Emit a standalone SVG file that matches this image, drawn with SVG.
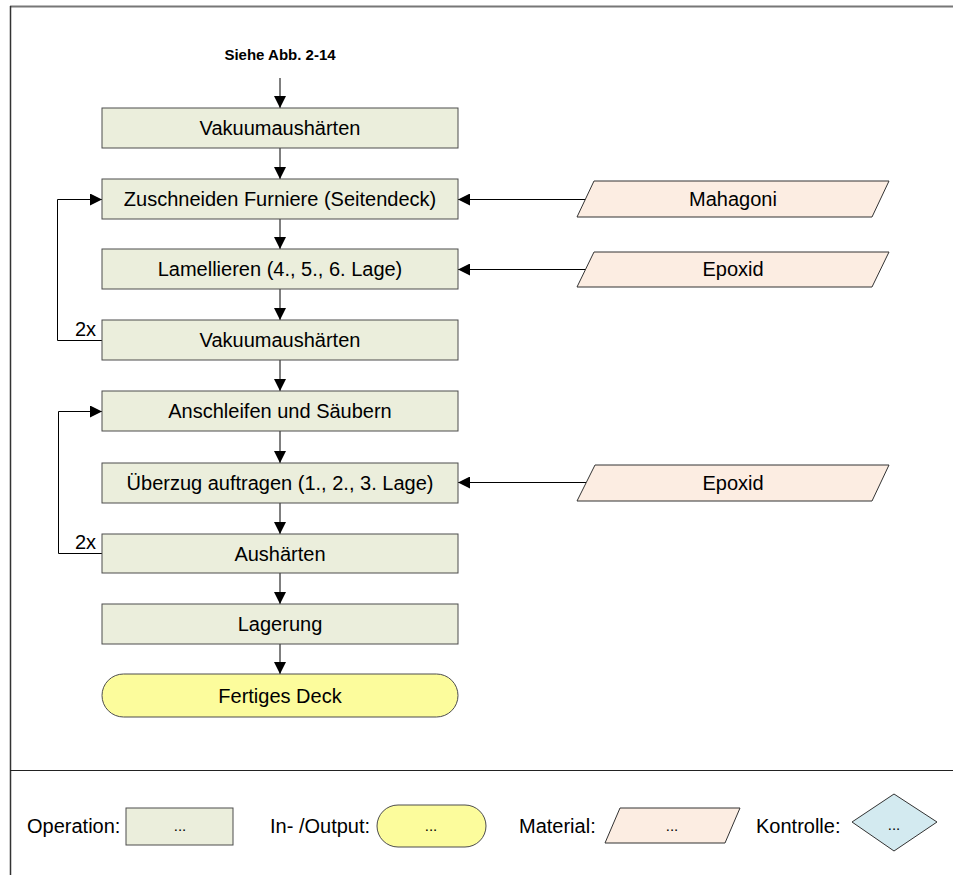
<svg xmlns="http://www.w3.org/2000/svg" width="953" height="875" viewBox="0 0 953 875">
  <defs>
    <style>
      .op { fill: #EBEEDC; stroke: #4D4D4D; stroke-width: 1; }
      .io { fill: #FCFC9C; stroke: #4D4D4D; stroke-width: 1; }
      .mat { fill: #FCEDE2; stroke: #333333; stroke-width: 1; }
      .ctl { fill: #D3EAF0; stroke: #333333; stroke-width: 1; }
      .lbl { font-family: "Liberation Sans", Arial, sans-serif; font-size: 20px; fill: #000; text-anchor: middle; }
      .lft { font-family: "Liberation Sans", Arial, sans-serif; font-size: 20px; fill: #000; }
      .dots { font-family: "Liberation Sans", Arial, sans-serif; font-size: 15px; fill: #000; text-anchor: middle; }
      .con { fill: none; stroke: #000; stroke-width: 1; }
      .arr { marker-end: url(#head); }
    </style>
    <marker id="head" viewBox="0 0 12 12" refX="12" refY="6" markerWidth="12" markerHeight="12" markerUnits="userSpaceOnUse" orient="auto">
      <path d="M0,0 L12,6 L0,12 z" fill="#000"/>
    </marker>
  </defs>

  <rect width="953" height="875" fill="#FFFFFF"/>

  <!-- frame -->
  <g id="frame">
    <line x1="10" y1="6.5" x2="953" y2="6.5" stroke="#777777" stroke-width="2"/>
    <line x1="10.5" y1="6" x2="10.5" y2="875" stroke="#333333" stroke-width="1.5"/>
    <line x1="10" y1="770.5" x2="953" y2="770.5" stroke="#222222" stroke-width="1"/>
  </g>

  <!-- connectors -->
  <g id="connectors">
    <line class="con arr" x1="280" y1="78" x2="280" y2="108"/>
    <line class="con arr" x1="280" y1="148" x2="280" y2="179"/>
    <line class="con arr" x1="280" y1="219" x2="280" y2="249"/>
    <line class="con arr" x1="280" y1="289" x2="280" y2="320"/>
    <line class="con arr" x1="280" y1="360" x2="280" y2="391"/>
    <line class="con arr" x1="280" y1="431" x2="280" y2="463"/>
    <line class="con arr" x1="280" y1="503" x2="280" y2="534"/>
    <line class="con arr" x1="280" y1="573" x2="280" y2="604"/>
    <line class="con arr" x1="280" y1="644" x2="280" y2="674"/>
    <line class="con arr" x1="586" y1="199.5" x2="458" y2="199.5"/>
    <line class="con arr" x1="586" y1="269.5" x2="458" y2="269.5"/>
    <line class="con arr" x1="586" y1="482.5" x2="458" y2="482.5"/>
    <polyline class="con arr" points="102,340.5 57.5,340.5 57.5,199.5 102,199.5"/>
    <polyline class="con arr" points="102,553.5 58.5,553.5 58.5,411.5 102,411.5"/>
    <text class="lft" x="75" y="336">2x</text>
    <text class="lft" x="75" y="549">2x</text>
  </g>

  <g id="start">
    <text x="280" y="60" font-family="'Liberation Sans', Arial, sans-serif" font-size="15" font-weight="bold" text-anchor="middle">Siehe Abb. 2-14</text>
  </g>

  <!-- operations -->
  <g id="op1"><rect class="op" x="102" y="108" width="356" height="40"/><text class="lbl" x="280" y="135">Vakuumaushärten</text></g>
  <g id="op2"><rect class="op" x="102" y="179" width="356" height="40"/><text class="lbl" x="280" y="206">Zuschneiden Furniere (Seitendeck)</text></g>
  <g id="op3"><rect class="op" x="102" y="249" width="356" height="40"/><text class="lbl" x="280" y="276">Lamellieren (4., 5., 6. Lage)</text></g>
  <g id="op4"><rect class="op" x="102" y="320" width="356" height="40"/><text class="lbl" x="280" y="347">Vakuumaushärten</text></g>
  <g id="op5"><rect class="op" x="102" y="391" width="356" height="40"/><text class="lbl" x="280" y="418">Anschleifen und Säubern</text></g>
  <g id="op6"><rect class="op" x="102" y="463" width="356" height="40"/><text class="lbl" x="280" y="490">Überzug auftragen (1., 2., 3. Lage)</text></g>
  <g id="op7"><rect class="op" x="102" y="534" width="356" height="39"/><text class="lbl" x="280" y="560.5">Aushärten</text></g>
  <g id="op8"><rect class="op" x="102" y="604" width="356" height="40"/><text class="lbl" x="280" y="631">Lagerung</text></g>
  <g id="out"><rect class="io" x="102" y="674" width="356" height="43" rx="21.5"/><text class="lbl" x="280" y="702.5">Fertiges Deck</text></g>

  <!-- materials -->
  <g id="mat1"><polygon class="mat" points="594,181 889,181 872,217 577,217"/><text class="lbl" x="733" y="206">Mahagoni</text></g>
  <g id="mat2"><polygon class="mat" points="594,252 889,252 872,287 577,287"/><text class="lbl" x="733" y="276">Epoxid</text></g>
  <g id="mat3"><polygon class="mat" points="595,465 889,465 872,501 577,501"/><text class="lbl" x="733" y="489.5">Epoxid</text></g>

  <!-- legend -->
  <g id="legend">
    <text class="lft" x="27" y="833">Operation:</text>
    <rect class="op" x="126" y="808" width="107" height="37"/>
    <text class="dots" x="180" y="831">...</text>
    <text class="lft" x="270" y="833">In- /Output:</text>
    <rect class="io" x="377" y="805" width="109" height="42" rx="21"/>
    <text class="dots" x="431" y="831">...</text>
    <text class="lft" x="519" y="833">Material:</text>
    <polygon class="mat" points="620,808 740,808 725,843 605,843"/>
    <text class="dots" x="672" y="831">...</text>
    <text class="lft" x="756" y="833">Kontrolle:</text>
    <polygon class="ctl" points="852,822 894,794 937,822 894,851"/>
    <text class="dots" x="894" y="830">...</text>
  </g>
</svg>
